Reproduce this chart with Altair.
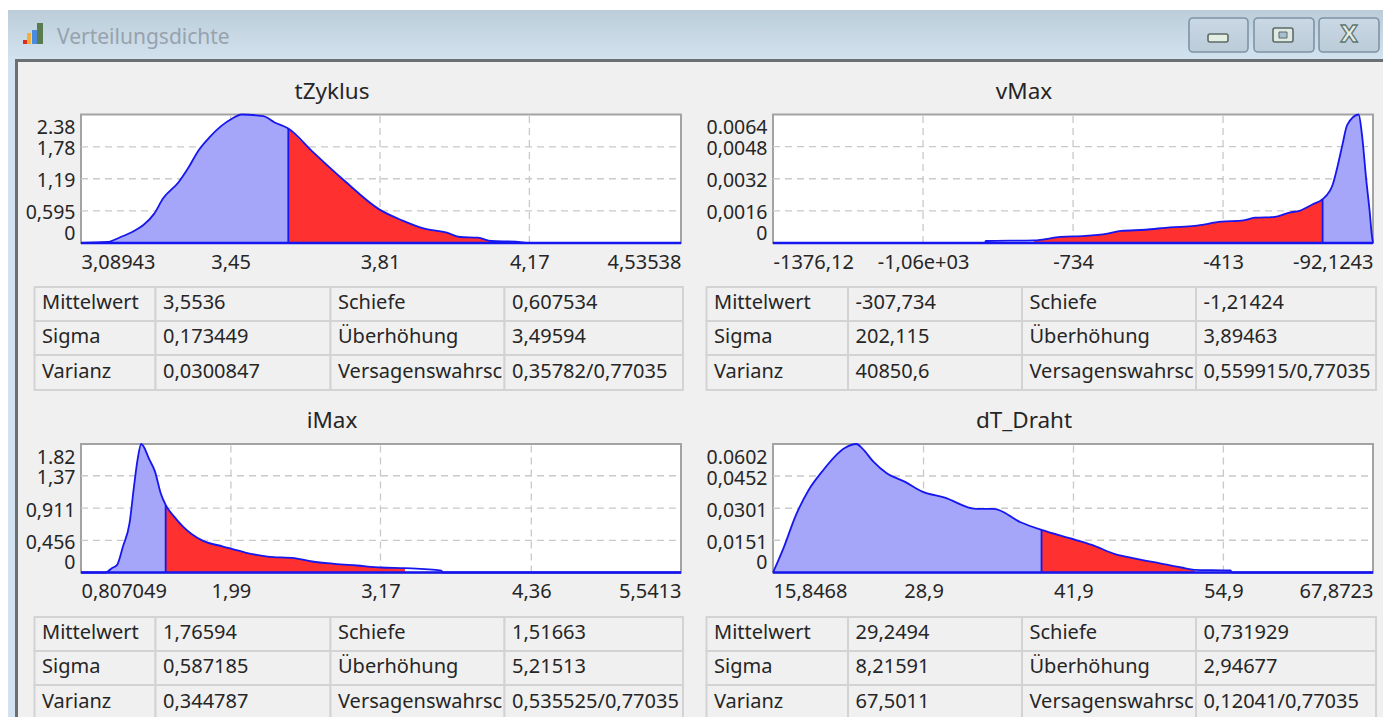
import altair as alt
import pandas as pd

FONT = "Noto Sans"
TEXT = "#262626"
W, H = 1375, 709


def cx(p):
    return p - 8


# --- data ----------------------------------------------------------------
t_x = [3.08943, 3.153, 3.185, 3.217, 3.239, 3.266, 3.287, 3.325, 3.347, 3.373, 3.400, 3.427, 3.454, 3.476,
       3.529, 3.556, 3.589, 3.648, 3.723, 3.809, 3.863, 3.917, 3.971, 4.003, 4.046, 4.078, 4.137, 4.171, 4.53538]
t_y = [0, 0.019, 0.111, 0.223, 0.328, 0.544, 0.822, 1.131, 1.379, 1.719, 1.966, 2.164, 2.306, 2.38,
       2.349, 2.232, 2.12, 1.688, 1.162, 0.618, 0.42, 0.266, 0.192, 0.111, 0.099, 0.037, 0.025, 0, 0]
t_xticks = [3.08943, 3.45, 3.81, 4.17, 4.53538]
t_xlabels = ["3,08943", "3,45", "3,81", "4,17", "4,53538"]
t_yticks = [0, 0.595, 1.19, 1.78, 2.38]
t_ylabels = ["0", "0,595", "1,19", "1,78", "2.38"]

v_x = [-1376.12, -922.7, -920.8, -817.7, -760.4, -707.9, -660.2, -631.5, -579.0, -526.5, -474.0, -416.7, -369.0,
       -345.1, -302.2, -268.8, -249.7, -221.0, -200.0, -178.1, -166.6, -157.0, -147.5, -122.7, -116.0, -106.5,
       -98.8, -95.0, -92.1243]
v_y = [0, 0, 0.0001, 0.00013, 0.0003, 0.00035, 0.00047, 0.0006, 0.00066, 0.00078, 0.00085, 0.00106, 0.00113,
       0.00126, 0.0013, 0.00153, 0.0016, 0.00193, 0.00218, 0.00293, 0.00396, 0.00495, 0.00587, 0.0064, 0.00545,
       0.00313, 0.00146, 0.00047, 0]
v_xticks = [-1376.12, -1055, -734, -413, -92.1243]
v_xlabels = ["-1376,12", "-1,06e+03", "-734", "-413", "-92,1243"]
v_yticks = [0, 0.0016, 0.0032, 0.0048, 0.0064]
v_ylabels = ["0", "0,0016", "0,0032", "0,0048", "0.0064"]

i_x = [0.807049, 1.000, 1.050, 1.092, 1.138, 1.190, 1.225, 1.253, 1.282, 1.348, 1.391, 1.436, 1.475, 1.542, 1.612,
       1.682, 1.770, 1.928, 2.104, 2.280, 2.491, 2.631, 2.807, 2.983, 3.176, 3.363, 3.651, 3.66, 5.5413]
i_y = [0, 0, 0.061, 0.108, 0.368, 0.698, 1.216, 1.594, 1.82, 1.594, 1.429, 1.122, 0.957, 0.792, 0.651,
       0.542, 0.448, 0.368, 0.283, 0.226, 0.203, 0.156, 0.123, 0.099, 0.071, 0.061, 0.028, 0, 0]
i_xticks = [0.807049, 1.99, 3.17, 4.36, 5.5413]
i_xlabels = ["0,807049", "1,99", "3,17", "4,36", "5,5413"]
i_yticks = [0, 0.456, 0.911, 1.37, 1.82]
i_ylabels = ["0", "0,456", "0,911", "1,37", "1.82"]

d_x = [15.8468, 16.81, 17.78, 18.94, 20.10, 22.03, 23.08, 23.58, 24.55, 25.71, 27.26, 28.80, 30.74, 33.45, 34.99,
       37.31, 39.13, 41.57, 43.50, 45.44, 47.37, 49.31, 51.24, 52.40, 55.49, 55.69, 67.8723]
d_y = [0, 0.01216, 0.0262, 0.03868, 0.04726, 0.05817, 0.0602, 0.05817, 0.05193, 0.04648, 0.04258, 0.0379, 0.03509,
       0.02979, 0.02979, 0.02355, 0.01996, 0.01606, 0.01294, 0.00873, 0.00639, 0.00437, 0.00234, 0.00125, 0.00094,
       0, 0]
d_xticks = [15.8468, 28.9, 41.9, 54.9, 67.8723]
d_xlabels = ["15,8468", "28,9", "41,9", "54,9", "67,8723"]
d_yticks = [0, 0.0151, 0.0301, 0.0452, 0.0602]
d_ylabels = ["0", "0,0151", "0,0301", "0,0452", "0.0602"]

row_names = ["Mittelwert", "Sigma", "Varianz"]
right_names = ["Schiefe", "Überhöhung", "Versagenswahrsc"]
t_vals = ["3,5536", "0,173449", "0,0300847"]
t_right = ["0,607534", "3,49594", "0,35782/0,77035"]
v_vals = ["-307,734", "202,115", "40850,6"]
v_right = ["-1,21424", "3,89463", "0,559915/0,77035"]
i_vals = ["1,76594", "0,587185", "0,344787"]
i_right = ["1,51663", "5,21513", "0,535525/0,77035"]
d_vals = ["29,2494", "8,21591", "67,5011"]
d_right = ["0,731929", "2,94677", "0,12041/0,77035"]


# --- helpers ---------------------------------------------------------------
def box(x0, y0, x1, y1, **mark):
    return alt.Chart(alt.Data(values=[{}])).mark_rect(**mark).encode(
        x=alt.value(cx(x0)), x2=alt.value(cx(x1)), y=alt.value(cx(y0)), y2=alt.value(cx(y1)))


def label(text, x, y, **mark):
    return alt.Chart(alt.Data(values=[{"t": text}])).mark_text(**mark).encode(
        x=alt.value(cx(x)), y=alt.value(cx(y)), text="t:N")


def label_expr(values, labels):
    expr = f"'{labels[-1]}'"
    for v, l in zip(values[:-1], labels[:-1]):
        expr = f"datum.value == {v} ? '{l}' : {expr}"
    return expr


def panel(title, title_x, xs, ys, blue_range, red_range, split, xticks, xlabels, yticks, ylabels,
          left, right, top, bottom):
    df = pd.DataFrame({"x": xs, "y": ys})
    xsc = alt.Scale(domain=[xticks[0], xticks[-1]], range=[cx(left), cx(right)], nice=False, zero=False)
    ysc = alt.Scale(domain=[0, yticks[-1]], range=[cx(bottom), cx(top)], nice=False, zero=False)
    X = alt.X("x:Q", scale=xsc, axis=None)
    Y = alt.Y("y:Q", scale=ysc, axis=None)

    frame = pd.DataFrame([{"xa": xticks[0], "xb": xticks[-1], "ya": 0, "yb": yticks[-1]}])
    x_axis = alt.Axis(values=xticks, labelExpr=label_expr(xticks, xlabels), orient="bottom",
                      offset=-(H - cx(bottom)), title=None, domain=False, ticks=False, grid=False,
                      labelFlush=True, labelFlushOffset=0, labelOverlap=False, labelBound=False, zindex=1,
                      labelFont=FONT, labelFontSize=20, labelColor=TEXT, labelPadding=9)
    y_axis = alt.Axis(values=yticks, labelExpr=label_expr(yticks, ylabels), orient="left",
                      offset=-cx(left), title=None, domain=False, ticks=False, grid=False,
                      labelFlush=True, labelFlushOffset=-2, labelOffset=2, labelOverlap=False, labelBound=False,
                      zindex=1, labelFont=FONT, labelFontSize=19.5, labelColor=TEXT, labelPadding=6)
    bg = alt.Chart(frame).mark_rect(fill="white", stroke="#a3a3a3", strokeWidth=2).encode(
        x=alt.X("xa:Q", scale=xsc, axis=x_axis), x2="xb:Q",
        y=alt.Y("ya:Q", scale=ysc, axis=y_axis), y2="yb:Q")

    vg = pd.DataFrame({"x": xticks[1:-1], "a": 0, "b": yticks[-1]})
    hg = pd.DataFrame({"y": yticks[1:-1], "a": xticks[0], "b": xticks[-1]})
    grid = dict(color="#c9c9c9", strokeWidth=1.3, strokeDash=[7, 5])
    vgrid = alt.Chart(vg).mark_rule(**grid).encode(
        x=X, y=alt.Y("a:Q", scale=ysc, axis=None), y2="b:Q")
    hgrid = alt.Chart(hg).mark_rule(**grid).encode(
        y=Y, x=alt.X("a:Q", scale=xsc, axis=None), x2="b:Q")

    blue = alt.Chart(df[(df.x >= blue_range[0]) & (df.x <= blue_range[1])]).mark_area(
        color="#a5a5f9", opacity=1, interpolate="monotone").encode(x=X, y=Y)
    red = alt.Chart(df[(df.x >= red_range[0]) & (df.x <= red_range[1])]).mark_area(
        color="#ff3030", opacity=1, interpolate="monotone").encode(x=X, y=Y)
    line = alt.Chart(df).mark_line(color="#1616ee", strokeWidth=1.8, interpolate="monotone").encode(x=X, y=Y)

    base = pd.DataFrame([{"a": xticks[0], "b": xticks[-1], "y": 0}])
    baseline = alt.Chart(base).mark_rule(color="#1616ee", strokeWidth=2.4).encode(
        x=alt.X("a:Q", scale=xsc, axis=None), x2="b:Q", y=Y)
    split_y = float(df.loc[df.x == split, "y"].iloc[0])
    sp = pd.DataFrame([{"x": split, "a": 0, "b": split_y}])
    split_rule = alt.Chart(sp).mark_rule(color="#1616ee", strokeWidth=1.8).encode(
        x=X, y=alt.Y("a:Q", scale=ysc, axis=None), y2="b:Q")

    head = label(title, title_x, (top - 23), font=FONT, fontSize=22.5, color=TEXT, align="center", baseline="middle")
    return [bg, vgrid, hgrid, blue, red, line, baseline, split_rule, head]


def table(vals, right_vals, xb, yb):
    xsc = alt.Scale(domain=[0, 1, 2, 3, 4], range=[cx(v) for v in xb], nice=False, zero=False)
    ysc = alt.Scale(domain=[0, 1, 2, 3], range=[cx(v) for v in yb], nice=False, zero=False)
    cells = pd.DataFrame([{"c": c, "c2": c + 1, "r": r, "r2": r + 1} for r in range(3) for c in range(4)])
    rows = []
    for r in range(3):
        for c, txt in enumerate([row_names[r], vals[r], right_names[r], right_vals[r]]):
            rows.append({"c": c, "r": r + 0.5, "t": txt})
    grid = alt.Chart(cells).mark_rect(fill="#f0f0f0", stroke="#d3d3d3", strokeWidth=2).encode(
        x=alt.X("c:Q", scale=xsc, axis=None), x2="c2:Q",
        y=alt.Y("r:Q", scale=ysc, axis=None), y2="r2:Q")
    text = alt.Chart(pd.DataFrame(rows)).mark_text(
        font=FONT, fontSize=20, color=TEXT, align="left", baseline="middle", dx=7.5, dy=-1).encode(
        x=alt.X("c:Q", scale=xsc, axis=None), y=alt.Y("r:Q", scale=ysc, axis=None), text="t:N")
    return [grid, text]


title_grad = alt.Gradient(gradient="linear", x1=0, x2=0, y1=0, y2=1,
                          stops=[alt.GradientStop(color="#bccdda", offset=0),
                                 alt.GradientStop(color="#d3e2ef", offset=1)])
btn_grad = alt.Gradient(gradient="linear", x1=0, x2=0, y1=0, y2=1,
                        stops=[alt.GradientStop(color="#c9d8e4", offset=0),
                               alt.GradientStop(color="#bccbd8", offset=1)])

chrome = [
    box(7, 10, 1391, 60, fill=title_grad),
    box(7, 60, 16, 725, fill="#d3e2f1"),
    box(17, 60, 1384, 725, fill="#f0f0f0"),
    box(15, 59, 1385, 62, fill="#6a7074"),
    box(15, 59, 18, 725, fill="#6a7074"),
    box(23, 40, 27, 44, fill="#e02a20"),
    box(27, 33, 31, 44, fill="#f0b040"),
    box(32, 30, 37, 44, fill="#4a8adf"),
    box(37, 23, 43, 44, fill="#5a7a50"),
    label("Verteilungsdichte", 57, 38, font=FONT, fontSize=21, color="#96a3ad", align="left", baseline="middle"),
    box(1189, 18, 1248, 52, fill=btn_grad, stroke="#7f93a5", strokeWidth=1.6, cornerRadius=4),
    box(1254, 18, 1314, 52, fill=btn_grad, stroke="#7f93a5", strokeWidth=1.6, cornerRadius=4),
    box(1319, 18, 1379, 52, fill=btn_grad, stroke="#7f93a5", strokeWidth=1.6, cornerRadius=4),
    box(1208, 34, 1228, 42, fill="#e4eee2", stroke="#5b6b66", strokeWidth=1.6, cornerRadius=2),
    box(1273, 28, 1293, 42, fill="#dfe8e2", stroke="#5b6b66", strokeWidth=1.6, cornerRadius=2),
    box(1279, 32, 1287, 38, fill="#a8bfd0", stroke="#5b6b66", strokeWidth=1),
    label("X", 1349, 35, font="DejaVu Sans", fontSize=23, fontWeight="bold", color="#e4eae4",
          stroke="#60756f", strokeWidth=1.3, align="center", baseline="middle"),
]

panels = (
    panel("tZyklus", 332, t_x, t_y, (3.08943, 3.589), (3.589, 4.078), 3.589,
          t_xticks, t_xlabels, t_yticks, t_ylabels, 81, 681, 114.5, 243)
    + panel("vMax", 1024, v_x, v_y, (-200.0, -92.1243), (-817.7, -200.0), -200.0,
            v_xticks, v_xlabels, v_yticks, v_ylabels, 773, 1373, 114.5, 243)
    + panel("iMax", 332, i_x, i_y, (0.807049, 1.475), (1.475, 3.363), 1.475,
            i_xticks, i_xlabels, i_yticks, i_ylabels, 81, 681, 444, 572.5)
    + panel("dT_Draht", 1024, d_x, d_y, (15.8468, 39.13), (39.13, 52.40), 39.13,
            d_xticks, d_xlabels, d_yticks, d_ylabels, 773, 1373, 444, 572.5)
)
tables = (
    table(t_vals, t_right, [34.5, 155.5, 330.5, 504.5, 683], [287, 321, 355, 390])
    + table(v_vals, v_right, [706.5, 848, 1022, 1196, 1376], [287, 321, 355, 390])
    + table(i_vals, i_right, [34.5, 155.5, 330.5, 504.5, 683], [617, 651, 685, 720])
    + table(d_vals, d_right, [706.5, 848, 1022, 1196, 1376], [617, 651, 685, 720])
)

chart = alt.layer(*chrome, *tables, *panels).resolve_scale(x="independent", y="independent").properties(
    width=W, height=H, padding=0, autosize="none", background="white"
).configure_view(stroke=None)

chart.save("out.html", embed_options={"renderer": "svg", "actions": False})
